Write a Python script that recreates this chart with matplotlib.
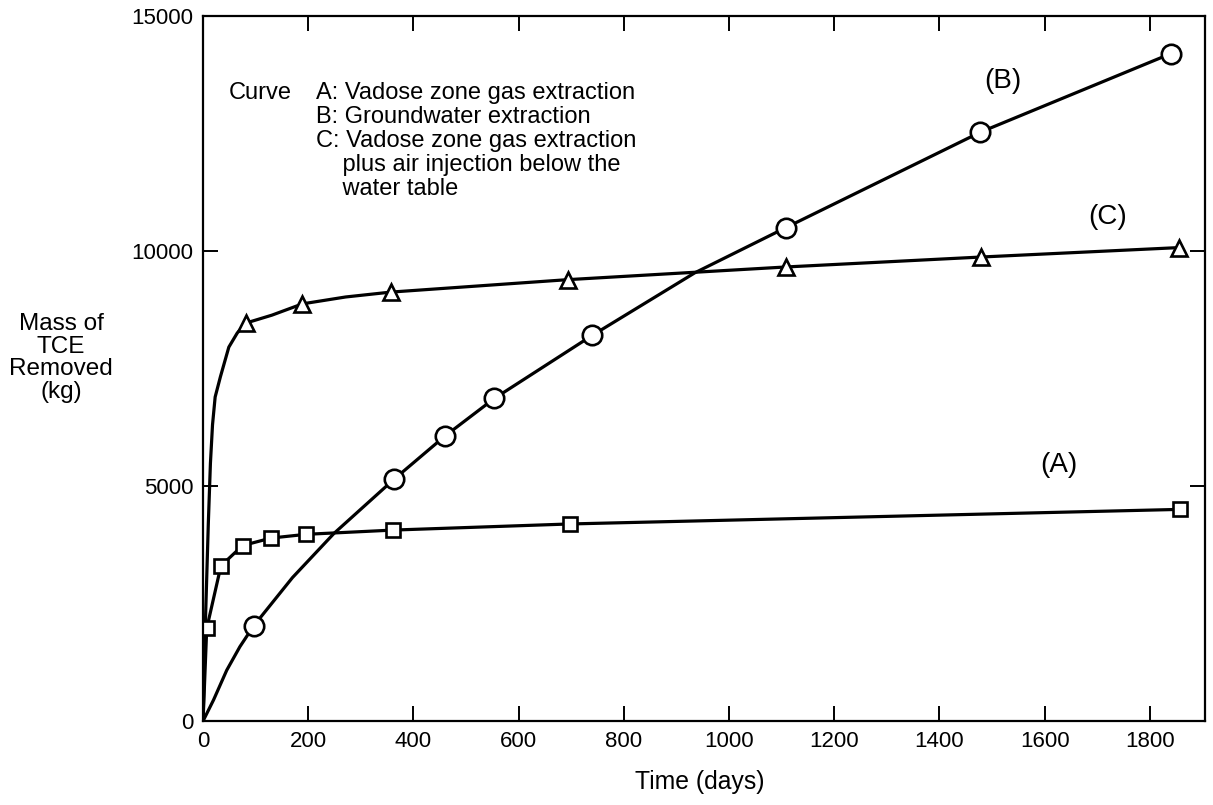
import matplotlib
matplotlib.use("Agg")
import matplotlib.pyplot as plt

plt.rcParams['font.family'] = ['Liberation Sans', 'DejaVu Sans']

# Curve A - vadose zone gas extraction (squares)
a_days = [7, 34, 75, 129, 196, 361, 697, 1857]
a_mass = [1970, 3300, 3730, 3890, 3970, 4060, 4190, 4500]

# Curve B - groundwater extraction (circles)
b_days = [96, 363, 460, 554, 740, 1108, 1478, 1840]
b_mass = [2020, 5140, 6060, 6860, 8200, 10490, 12520, 14190]

# Curve C - gas extraction plus air injection (triangles)
c_days = [81, 189, 357, 694, 1108, 1480, 1855]
c_mass = [8460, 8870, 9120, 9385, 9654, 9866, 10066]

# points (markers + unmarked bends)
a_line_days = [0, 7, 34, 75, 129, 196, 361, 697, 1857]
a_line_mass = [0, 1970, 3300, 3730, 3890, 3970, 4060, 4190, 4500]
b_line_days = [0, 20, 45, 70, 96, 170, 249, 363, 460, 554, 740, 935, 1108, 1478, 1840]
b_line_mass = [0, 450, 1080, 1580, 2020, 3050, 3990, 5140, 6060, 6860, 8200, 9530, 10490, 12520, 14190]
c_line_days = [0, 5, 10, 14, 18, 23, 33, 49, 65, 81, 131, 189, 271, 357, 694, 1108, 1480, 1855]
c_line_mass = [0, 2300, 4200, 5480, 6300, 6890, 7320, 7950, 8250, 8460, 8630, 8870, 9016, 9120, 9385,
               9654, 9866, 10066]

x_ticks = [0, 200, 400, 600, 800, 1000, 1200, 1400, 1600, 1800]
y_ticks = [0, 5000, 10000, 15000]

fig = plt.figure(figsize=(12.13, 8.05), dpi=100)
ax = fig.add_axes([0.1674, 0.1043, 0.8260, 0.8764])

lw = 2.3
ax.plot(a_line_days, a_line_mass, color='black', lw=lw)
ax.plot(b_line_days, b_line_mass, color='black', lw=lw)
ax.plot(c_line_days, c_line_mass, color='black', lw=lw)

ax.plot(a_days, a_mass, ls='none', marker='s', ms=9.5, mfc='white', mec='black', mew=1.9)
ax.plot(b_days, b_mass, ls='none', marker='o', ms=14, mfc='white', mec='black', mew=1.9)
ax.plot(c_days, c_mass, ls='none', marker='^', ms=11, mfc='white', mec='black', mew=1.9)

ax.set_xlim(0, 1905)
ax.set_ylim(0, 15000)
ax.set_xticks(x_ticks)
ax.set_yticks(y_ticks)
ax.tick_params(direction='in', top=True, right=True, length=11, width=1.4,
               labelsize=16, pad=7)
for s in ax.spines.values():
    s.set_linewidth(1.6)

# curve labels
ax.text(1520, 13600, "(B)", fontsize=20, ha='center', va='center')
ax.text(1720, 10720, "(C)", fontsize=20, ha='center', va='center')
ax.text(1627, 5450, "(A)", fontsize=20, ha='center', va='center')

# key text block
fs = 17
fig.text(229 / 1213, 1 - 93 / 805, "Curve", fontsize=fs, va='center')
key_lines = ["A: Vadose zone gas extraction",
             "B: Groundwater extraction",
             "C: Vadose zone gas extraction",
             "    plus air injection below the",
             "    water table"]
for i, line in enumerate(key_lines):
    fig.text(316 / 1213, 1 - (93 + 24 * i) / 805, line, fontsize=fs, va='center')

fig.text(61 / 1213, 1 - 358 / 805, "Mass of\nTCE\nRemoved\n(kg)", fontsize=17.5,
         ha='center', va='center', linespacing=1.02)
fig.text(700 / 1213, 1 - 782 / 805, "Time (days)", fontsize=17.8, ha='center', va='center')

fig.savefig("out.png", dpi=100)
